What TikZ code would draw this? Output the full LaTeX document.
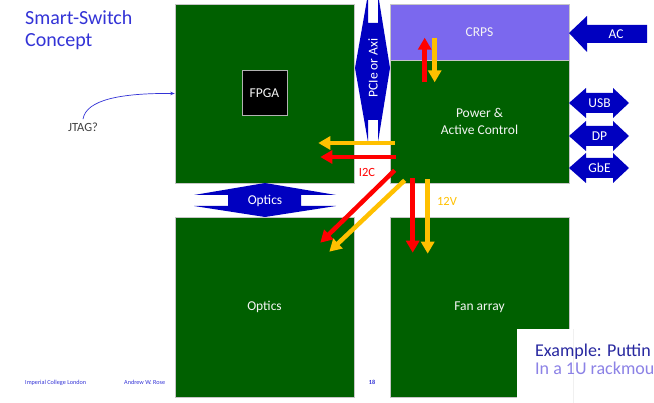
\documentclass[tikz,border=0pt]{standalone}
\usepackage{fontspec}
\setmainfont{Carlito}
\usetikzlibrary{arrows.meta}
\definecolor{boardgreen}{RGB}{0,96,0}
\definecolor{crpsviolet}{RGB}{123,104,238}
\definecolor{linkblue}{RGB}{0,0,192}
\definecolor{pwrred}{RGB}{255,0,0}
\definecolor{pwryellow}{RGB}{255,192,0}
\definecolor{titleblue}{RGB}{51,51,214}
\definecolor{jtaggray}{RGB}{64,64,64}
\definecolor{notedark}{RGB}{40,40,160}
\definecolor{notelight}{RGB}{140,130,230}

\begin{document}
\begin{tikzpicture}[
  x=1pt, y=-1pt,
  font=\fontsize{13.5}{17}\selectfont,
  board/.style={
    draw=gray!45,
    line width=0.6pt,
    fill=boardgreen,
    text=white!92!gray,
    minimum width=179pt,
    align=center
  },
  chip/.style={
    draw=gray!60,
    line width=1pt,
    fill=black,
    text=white!92!gray,
    minimum size=45pt
  },
  link/.style={fill=linkblue},
  linklabel/.style={text=white, inner sep=0pt},
  pwr/.style={line width=4.5pt, -{Triangle[length=12pt,width=13pt]}},
  redline/.style={pwr, draw=pwrred},
  yellowline/.style={pwr, draw=pwryellow},
  sidelabel/.style={font=\fontsize{12.5}{15}\selectfont},
  jtagline/.style={draw=titleblue, line width=0.7pt, -{Stealth[length=4.5pt,width=3.5pt]}},
  footer/.style={text=titleblue, anchor=base west, inner sep=0pt, font=\fontsize{6.2}{7}\selectfont}
]
\useasboundingbox (0,0) rectangle (654,403);
\clip (0,0) rectangle (654,403);

% title
\node[text=titleblue, anchor=base west, inner sep=0pt, font=\fontsize{20}{22}\selectfont] (title1) at (25,25) {Smart-Switch};
\node[text=titleblue, anchor=base west, inner sep=0pt, font=\fontsize{20}{22}\selectfont] (title2) at (25,47) {Concept};

% boards
\node[board, minimum height=179pt] (fpgabd) at (264.5,93.5) {};
\node[chip] (fpga) at (fpgabd.center) {FPGA};
\node[board, fill=crpsviolet, minimum height=56pt] (crps) at (479.5,32) {CRPS};
\node[board, minimum height=123pt] (power) at (479.5,121.5) {Power \&\\Active Control};
\node[board, minimum height=180pt] (opticsbd) at (264.5,307) {Optics};
\node[board, minimum height=180pt] (fan) at (479.5,307) {Fan array};

% blue links
\fill[link] (355,68) -- (368,-6) -- (368,23) -- (378,23) -- (378,-6) -- (390,68)
  -- (378,142) -- (378,120) -- (368,120) -- (368,142) -- cycle;
\node[linklabel, rotate=90] (pcie) at (373,68) {PCIe or Axi};

\fill[link] (265,183) -- (336,195) -- (301,195) -- (301,206) -- (336,206) -- (265,217)
  -- (194,206) -- (228,206) -- (228,195) -- (194,195) -- cycle;
\node[linklabel] (opticslink) at (265,200.5) {Optics};

\fill[link] (569,33) -- (587,16) -- (587,25) -- (647,25) -- (647,43) -- (587,43) -- (587,52) -- cycle;
\node[linklabel] (ac) at (616,34) {AC};

\fill[link] (569,103) -- (586,88) -- (586,93) -- (613,93) -- (613,88) -- (629,103)
  -- (613,118) -- (613,113) -- (586,113) -- (586,118) -- cycle;
\node[linklabel] (usb) at (599.5,103) {USB};

\fill[link] (569,136) -- (586,121) -- (586,126) -- (613,126) -- (613,121) -- (629,136)
  -- (613,151) -- (613,146) -- (586,146) -- (586,151) -- cycle;
\node[linklabel] (dp) at (599.5,136) {DP};

\fill[link] (569,168) -- (586,153) -- (586,158) -- (613,158) -- (613,153) -- (629,168)
  -- (613,183) -- (613,178) -- (586,178) -- (586,183) -- cycle;
\node[linklabel] (gbe) at (599.5,168) {GbE};

% power and i2c lines
\draw[yellowline] ([shift={(5,21.5)}]power.west) -- ([shift={(-36,49.5)}]fpgabd.east);
\draw[redline] ([shift={(6,35.5)}]power.west) -- ([shift={(-34,63.5)}]fpgabd.east);
\draw[redline] ([shift={(5,-13)}]power.south west) -- ([shift={(-34,26)}]opticsbd.north east);
\draw[yellowline] ([shift={(15,-3)}]power.south west) -- ([shift={(-25,35)}]opticsbd.north east);
\draw[redline] ([shift={(23,-5)}]power.south west) -- ([shift={(23,36)}]fan.north west);
\draw[yellowline] ([shift={(38,-4)}]power.south west) -- ([shift={(38,37)}]fan.north west);
\draw[redline] ([shift={(35,22)}]crps.south west) -- ([shift={(35,34)}]crps.north west);
\draw[yellowline] ([shift={(45,34)}]crps.north west) -- ([shift={(45,22)}]crps.south west);

\node[sidelabel, text=pwrred] (i2c) at (367,172) {I2C};
\node[sidelabel, text=pwryellow] (twelvev) at (447,201) {12V};

% jtag
\node[sidelabel, text=jtaggray] (jtag) at (83,127) {JTAG?};
\draw[jtagline] (jtag.north) .. controls (86,100) and (120,93) .. (fpgabd.west);

% footer
\node[footer] (inst) at (25,385) {Imperial College London};
\node[footer] (author) at (124,385) {Andrew W. Rose};
\node[footer, anchor=base, font=\fontsize{6.2}{7}\selectfont\bfseries] (page) at (372,385) {18};

% overlapping slide
\fill[white] (517,329) rectangle (660,410);
\draw[gray!12, line width=0.5pt] (573,329) -- (573,403);
\node[text=notedark, anchor=base west, inner sep=0pt, font=\fontsize{18}{20}\selectfont] (note1) at (535,357) {Example: Puttin};
\node[text=notelight, anchor=base west, inner sep=0pt, font=\fontsize{18}{20}\selectfont] (note2) at (535,375) {In a 1U rackmou};

\end{tikzpicture}
\end{document}
